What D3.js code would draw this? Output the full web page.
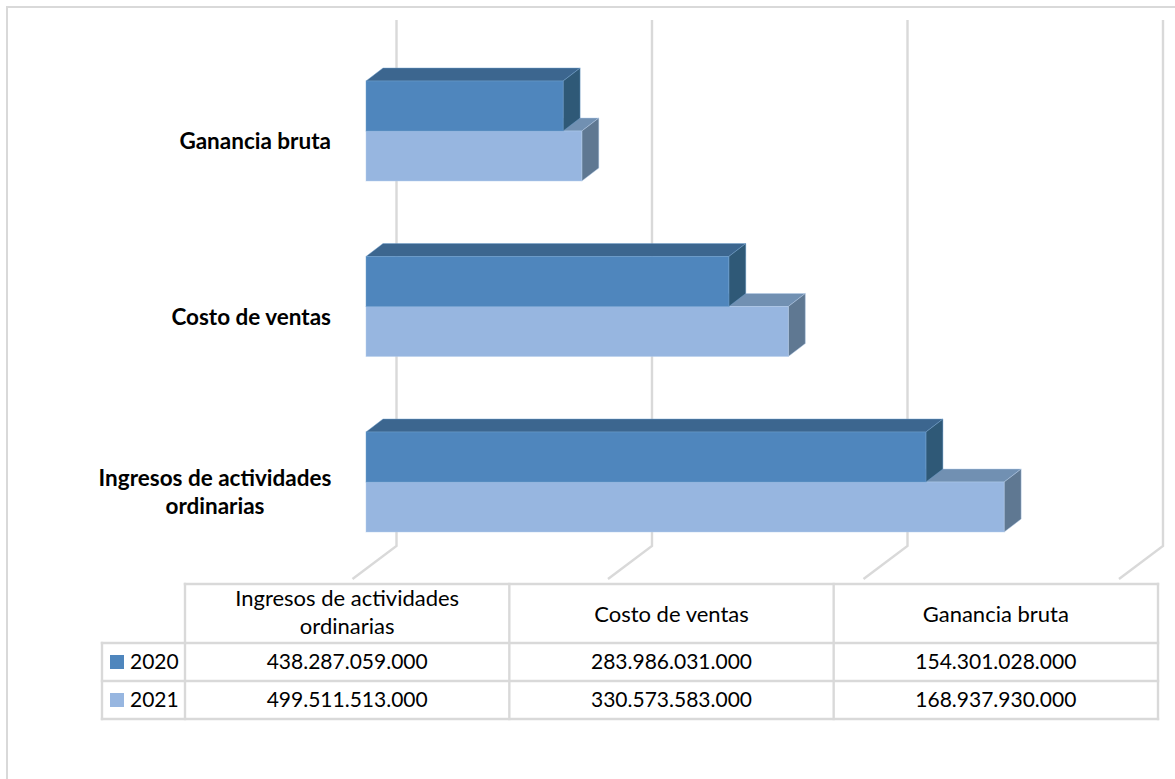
<!DOCTYPE html>
<html>
<head>
<meta charset="utf-8">
<script src="https://cdn.jsdelivr.net/npm/d3@7"></script>
<style>
    html, body { margin: 0; padding: 0; background: #fff; }
    svg { display: block; }
    text { font-family: Lato, "Open Sans", sans-serif; fill: #000; }
</style>
</head>
<body>
<svg id="chart" width="1175" height="779"></svg>
<script>
// top to bottom, the way the bars are stacked on the page
let categories = ['Ganancia bruta', 'Costo de ventas', 'Ingresos de actividades ordinarias']
let values2020 = [154301028000, 283986031000, 438287059000]
let values2021 = [168937930000, 330573583000, 499511513000]
let seriesNames = ['2020', '2021']
let xTicks = [0, 200e9, 400e9, 600e9]

// table columns run the other way round
let tableColumns = [2, 1, 0]
let categoryLines = {
    'Ingresos de actividades ordinarias': ['Ingresos de actividades', 'ordinarias']
}

let colors = {
    '2020': {front: '#4f86bd', top: '#3c668f', side: '#2f5977', edge: '#6f9fcf'},
    '2021': {front: '#97b6e0', top: '#7190b2', side: '#5f7892', edge: '#b4cbea'}
}
let gridColor = '#d9d9d9'

function main() {
    let svg = d3.select('#chart')
    let depth = {x: 17, y: 13}
    let wall = {x: 30.5, top: 20, bottom: 546},
        floor = {x: -44, y: 33}

    let xScale = d3.scaleLinear().domain([0, 600e9]).range([366, 1132.5])
    // top edge of each group, every group is two 50px bars
    let yScale = d3.scalePoint().domain(categories).range([81, 432])
    let seriesScale = d3.scaleBand().domain(seriesNames).range([0, 100])

    // outer frame, the right and bottom sides fall off the picture
    svg.append('path')
        .attr('d', 'M7,779V7H1175')
        .attr('fill', 'none')
        .attr('stroke', gridColor)
        .attr('stroke-width', 2)

    // back wall lines and their step down the floor
    let grid = svg.append('g').attr('class', 'grid')
    grid.selectAll('path')
        .data(xTicks)
        .enter()
        .append('path')
        .attr('d', d => {
            let x = xScale(d) + wall.x
            return 'M' + x + ',' + wall.top + 'V' + wall.bottom + 'l' + floor.x + ',' + floor.y
        })
        .attr('fill', 'none')
        .attr('stroke', gridColor)
        .attr('stroke-width', 2.4)

    // 2021 goes first so the 2020 box sits over its top face
    let series = [
        {name: '2021', values: values2021},
        {name: '2020', values: values2020}
    ]
    series.forEach(s => {
        let g = svg.append('g').attr('class', 'series-' + s.name)
        let c = colors[s.name]
        let h = seriesScale.bandwidth()
        let groups = g.selectAll('g')
            .data(categories.map((cat, i) => ({cat: cat, value: s.values[i]})))
            .enter()
            .append('g')
            .attr('stroke', c.edge)
            .attr('stroke-opacity', 0.45)
            .attr('stroke-width', 1)

        // top face
        groups.append('path')
            .attr('d', d => {
                let y = yScale(d.cat) + seriesScale(s.name), x0 = xScale(0), x1 = xScale(d.value)
                return 'M' + x0 + ',' + y + 'l' + depth.x + ',' + (-depth.y) + 'H' + (x1 + depth.x) + 'l' + (-depth.x) + ',' + depth.y + 'Z'
            })
            .attr('fill', c.top)
        // side face
        groups.append('path')
            .attr('d', d => {
                let y = yScale(d.cat) + seriesScale(s.name), x1 = xScale(d.value)
                return 'M' + x1 + ',' + y + 'l' + depth.x + ',' + (-depth.y) + 'v' + h + 'l' + (-depth.x) + ',' + depth.y + 'Z'
            })
            .attr('fill', c.side)
        groups.append('rect')
            .attr('x', xScale(0))
            .attr('y', d => yScale(d.cat) + seriesScale(s.name))
            .attr('width', d => xScale(d.value) - xScale(0))
            .attr('height', h)
            .attr('fill', c.front)
    })

    // category labels on the left
    let labels = svg.append('g').attr('class', 'labels')
    categories.forEach(cat => {
        let lines = categoryLines[cat] || [cat]
        let midY = yScale(cat) + 50
        let text = labels.append('text')
            .attr('font-weight', 'bold')
            .attr('font-size', 22.5)
        if (lines.length === 1) {
            text.attr('text-anchor', 'end').attr('x', 331).attr('y', midY + 18).text(lines[0])
        } else {
            text.attr('text-anchor', 'middle')
            lines.forEach((line, i) => {
                text.append('tspan')
                    .attr('x', 215)
                    .attr('y', midY + 4 + i * 28)
                    .text(line)
            })
        }
    })

    drawTable(svg)
}

function drawTable(svg) {
    let fmt = d3.formatLocale({decimal: ',', thousands: '.', grouping: [3], currency: ['', '']}).format(',.0f')

    let colX = d3.scaleBand().domain(tableColumns).range([185, 1158])
    let rowY = d3.scaleBand().domain(seriesNames).range([643, 719])
    let headTop = 584, headBottom = 643, left = 102, bottom = 719

    let table = svg.append('g').attr('class', 'data-table')
    let lines = [
        [185, headTop, 1158, headTop],
        [left, headBottom, 1158, headBottom],
        [left, rowY('2021'), 1158, rowY('2021')],
        [left, bottom, 1158, bottom],
        [left, headBottom, left, bottom],
        [185, headTop, 185, bottom],
        [colX(1), headTop, colX(1), bottom],
        [colX(0), headTop, colX(0), bottom],
        [1158, headTop, 1158, bottom]
    ]
    table.selectAll('line')
        .data(lines)
        .enter()
        .append('line')
        .attr('x1', d => d[0])
        .attr('y1', d => d[1])
        .attr('x2', d => d[2])
        .attr('y2', d => d[3])
        .attr('stroke', gridColor)
        .attr('stroke-width', 2.4)
        .attr('stroke-linecap', 'square')

    // header row
    tableColumns.forEach(i => {
        let cat = categories[i]
        let parts = categoryLines[cat] || [cat]
        let cx = colX(i) + colX.bandwidth() / 2
        let text = table.append('text').attr('text-anchor', 'middle').attr('font-size', 22)
        parts.forEach((part, k) => {
            text.append('tspan')
                .attr('x', cx)
                .attr('y', parts.length === 1 ? 622 : 606 + k * 28)
                .text(part)
        })
    })

    // value rows with the legend key
    let rows = {'2020': values2020, '2021': values2021}
    seriesNames.forEach(name => {
        let y = rowY(name) + rowY.bandwidth() / 2
        table.append('rect')
            .attr('x', 110)
            .attr('y', y - 7)
            .attr('width', 14)
            .attr('height', 14)
            .attr('fill', colors[name].front)
        table.append('text')
            .attr('x', 130)
            .attr('y', y + 7)
            .attr('font-size', 21)
            .text(name)
        tableColumns.forEach(i => {
            table.append('text')
                .attr('x', colX(i) + colX.bandwidth() / 2)
                .attr('y', y + 7)
                .attr('text-anchor', 'middle')
                .attr('font-size', 21)
                .text(fmt(rows[name][i]))
        })
    })
}

main()
</script>
</body>
</html>
